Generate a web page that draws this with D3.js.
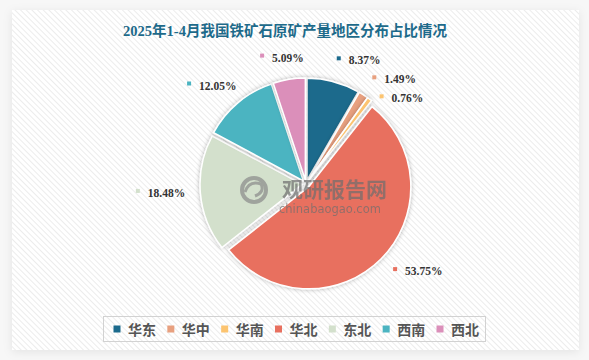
<!DOCTYPE html>
<html><head><meta charset="utf-8">
<script src="https://cdn.jsdelivr.net/npm/d3@7/dist/d3.min.js"></script>
<style>
html,body{margin:0;padding:0;background:#f7f7f7;}
svg{display:block;}
</style></head>
<body>
<svg id="chart" width="589" height="360"></svg>
<script>
const title = "2025年1-4月我国铁矿石原矿产量地区分布占比情况";
const regions = ["华东","华中","华南","华北","东北","西南","西北"];
const shares = [8.37, 1.49, 0.76, 53.75, 18.48, 12.05, 5.09];
const palette = ["#1b6a8c","#e8a07f","#fcc470","#e8705f","#d3e0cc","#4bb4c1","#db8fba"];

const W = 589, H = 360;
const svg = d3.select("#chart");
const defs = svg.append("defs");

// background shadow + panel
const shadow = defs.append("filter").attr("id","panelShadow").attr("x","-10%").attr("y","-10%").attr("width","120%").attr("height","120%");
shadow.append("feDropShadow").attr("dx",0).attr("dy",2).attr("stdDeviation",5).attr("flood-color","#000").attr("flood-opacity",0.08);
const pat = defs.append("pattern").attr("id","stripes").attr("patternUnits","userSpaceOnUse")
  .attr("width",4).attr("height",4).attr("patternTransform","rotate(45)");
pat.append("rect").attr("width",4).attr("height",4).attr("fill","#ffffff");
pat.append("line").attr("x1",0).attr("y1",0.5).attr("x2",4).attr("y2",0.5).attr("stroke","#ececec").attr("stroke-width",1);

svg.append("rect").attr("width",W).attr("height",H).attr("fill","#f7f7f7");
svg.append("rect").attr("x",12).attr("y",10).attr("width",567).attr("height",340)
  .attr("fill","url(#stripes)").attr("filter","url(#panelShadow)");

// title
svg.append("text").attr("x",285).attr("y",36).attr("text-anchor","middle")
  .attr("font-family","'Liberation Serif', 'Noto Sans CJK SC', serif").attr("font-weight","bold")
  .attr("font-size",14.5).attr("fill","#1d6a8a").text(title);

// pie
const cx = 306, cy = 184, R = 102, explode = 4, labelR = 126, labelRLeft = 145;
const color = d3.scaleOrdinal().domain(regions).range(palette);
const data = regions.map((r,i)=>({region:r, value:shares[i]}));
const pie = d3.pie().value(d=>d.value).sort(null).startAngle(0).endAngle(2*Math.PI);
const arcs = pie(data);
const arc = d3.arc().innerRadius(0).outerRadius(R);

const sliceShadow = defs.append("filter").attr("id","sliceShadow").attr("x","-20%").attr("y","-20%").attr("width","140%").attr("height","140%");
sliceShadow.append("feDropShadow").attr("dx",0).attr("dy",0).attr("stdDeviation",2).attr("flood-color","#000").attr("flood-opacity",0.3);

const g = svg.append("g").attr("transform",`translate(${cx},${cy})`);
g.selectAll("path.slice").data(arcs).join("path")
  .attr("class","slice")
  .attr("transform",d=>{
    const m = (d.startAngle+d.endAngle)/2;
    return `translate(${explode*Math.sin(m)},${-explode*Math.cos(m)})`;
  })
  .attr("d",arc)
  .attr("fill",d=>color(d.data.region))
  .attr("stroke","#ffffff").attr("stroke-width",1.5)
  .attr("filter","url(#sliceShadow)");

// watermark
const wm = svg.append("g").attr("opacity",0.7);
wm.append("circle").attr("cx",254).attr("cy",190).attr("r",12).attr("fill","none").attr("stroke","#8a8a8a").attr("stroke-width",4);
wm.append("path").attr("d","M245,192 Q249,180 261,184 Q265,192 255,196").attr("fill","none").attr("stroke","#8a8a8a").attr("stroke-width",3);
wm.append("text").attr("x",282).attr("y",197).attr("font-family","'Noto Sans CJK SC', sans-serif")
  .attr("font-weight","bold").attr("font-size",21).attr("fill","#6e6e6e").text("观研报告网");
wm.append("text").attr("x",279).attr("y",213).attr("font-family","'DejaVu Sans', sans-serif")
  .attr("font-size",11.5).attr("fill","#6e6e6e").text("chinabaogao.com");

// labels
const labelFont = "'Liberation Serif', serif";
const labels = arcs.map(d=>{
  const m = (d.startAngle+d.endAngle)/2;
  const right = m < Math.PI;
  return {d, m, right,
    x: (right ? labelR : labelRLeft)*Math.sin(m),
    y: -labelR*Math.cos(m),
    text: d.data.value.toFixed(2)+"%"};
});
// simple collision avoidance per side
["right","left"].forEach(side=>{
  const group = labels.filter(l => side==="right" ? l.right : !l.right).sort((a,b)=>a.y-b.y);
  for(let i=1;i<group.length;i++){
    if(group[i].y - group[i-1].y < 19) group[i].y = group[i-1].y + 19;
  }
});
const lg = g.append("g");
labels.forEach(l=>{
  const t = lg.append("text").attr("font-family",labelFont).attr("font-weight","bold")
    .attr("font-size",11.5).attr("fill","#333").attr("dominant-baseline","central").text(l.text);
  const w = t.node().getComputedTextLength();
  const mx = l.right ? l.x : l.x - (w + 10)/2;
  t.attr("x", mx + 10).attr("y", l.y - 2);
  lg.append("rect").attr("x",mx-2).attr("y",l.y-6).attr("width",4).attr("height",4)
    .attr("fill",color(l.d.data.region));
});

// legend
svg.append("rect").attr("x",103.5).attr("y",316.5).attr("width",382).attr("height",25)
  .attr("fill","none").attr("stroke","#d2d2d2").attr("stroke-width",1);
const legX = d3.scalePoint().domain(regions).range([117,440]);
const leg = svg.append("g").selectAll("g").data(regions).join("g")
  .attr("transform",d=>`translate(${legX(d)},329)`);
leg.append("rect").attr("x",-3.5).attr("y",-3.5).attr("width",7).attr("height",7).attr("fill",d=>color(d));
leg.append("text").attr("x",11).attr("y",0).attr("dominant-baseline","central")
  .attr("font-family","'Noto Sans CJK SC', sans-serif").attr("font-weight","bold")
  .attr("font-size",14).attr("fill","#555").text(d=>d);
</script>
</body></html>
